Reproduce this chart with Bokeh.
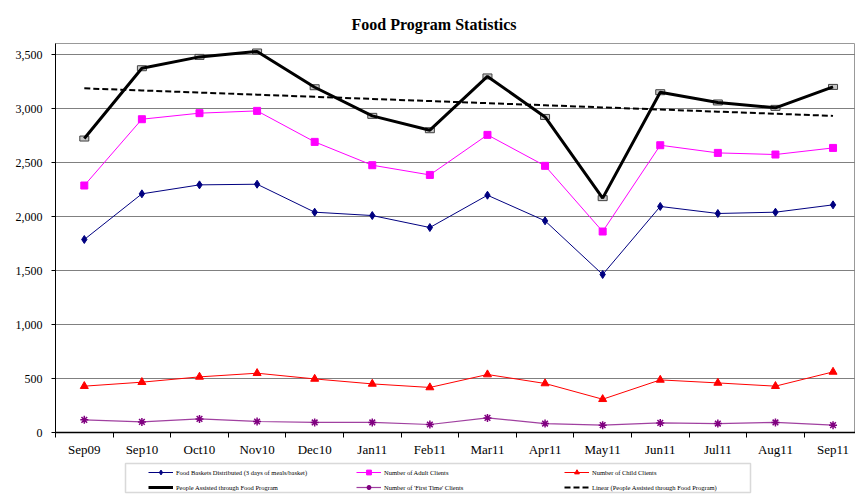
import numpy as np
from bokeh.plotting import figure
from bokeh.layouts import column
from bokeh.models import (ColumnDataSource, Range1d, FixedTicker, NumeralTickFormatter,
                          Legend, LegendItem, BoxAnnotation)
from bokeh.embed import file_html
from bokeh.resources import INLINE

months = ["Sep09", "Sep10", "Oct10", "Nov10", "Dec10", "Jan11", "Feb11",
          "Mar11", "Apr11", "May11", "Jun11", "Jul11", "Aug11", "Sep11"]
food_baskets = [1787, 2210, 2293, 2299, 2040, 2009, 1898, 2197, 1960, 1463, 2093, 2028, 2040, 2108]
adult_clients = [2287, 2901, 2957, 2978, 2691, 2475, 2385, 2756, 2469, 1861, 2660, 2589, 2574, 2635]
child_clients = [429, 466, 515, 549, 496, 450, 417, 537, 454, 308, 487, 459, 429, 561]
people_assisted = [2722, 3373, 3478, 3528, 3197, 2932, 2799, 3297, 2922, 2170, 3151, 3056, 3006, 3200]
first_time = [117, 98, 126, 102, 93, 93, 74, 135, 83, 68, 89, 83, 93, 68]
y_ticks = [0, 500, 1000, 1500, 2000, 2500, 3000, 3500]
labels = ["Food Baskets Distributed (3 days of meals/basket)",
          "Number of Adult Clients",
          "Number of Child Clients",
          "People Assisted through Food Program",
          "Number of 'First Time' Clients",
          "Linear (People Assisted through Food Program)"]

idx = np.arange(len(months))
slope, intercept = np.polyfit(idx, np.array(people_assisted, dtype=float), 1)
trend = (slope * idx + intercept).tolist()

src = ColumnDataSource(dict(x=idx.tolist(), food=food_baskets, adult=adult_clients,
                            child=child_clients, people=people_assisted,
                            first=first_time, trend=trend))

SERIF = "Liberation Serif"


def add_series(f):
    r = {}
    r["food"] = [f.line("x", "food", source=src, line_color="#000080", line_width=1),
                 f.scatter("x", "food", source=src, marker="diamond", size=8,
                           fill_color="#000080", line_color="#000080")]
    r["adult"] = [f.line("x", "adult", source=src, line_color="#FF00FF", line_width=1),
                  f.scatter("x", "adult", source=src, marker="square", size=7,
                            fill_color="#FF00FF", line_color="#FF00FF")]
    r["child"] = [f.line("x", "child", source=src, line_color="#FF0000", line_width=1),
                  f.scatter("x", "child", source=src, marker="triangle", size=8,
                            fill_color="#FF0000", line_color="#FF0000")]
    f.rect("x", "people", source=src, width=9, height=5, width_units="screen",
           height_units="screen", fill_color="#c8c8c8", line_color="#404040", line_width=1)
    lp = f.line("x", "people", source=src, line_color="black", line_width=3)
    r["people"] = [lp]
    r["first"] = [f.line("x", "first", source=src, line_color="#A040A0", line_width=1.2),
                  f.scatter("x", "first", source=src, marker="asterisk", size=8,
                            line_color="#800080", line_width=1.5)]
    r["trend"] = [f.line("x", "trend", source=src, line_color="black", line_width=2,
                         line_dash="6 3")]
    return r


# ---------------- main chart ----------------
p = figure(width=855, height=459, output_backend="svg", toolbar_location=None,
           x_range=Range1d(-0.5, 13.39), y_range=Range1d(0, 3602),
           min_border_left=55, min_border_right=0, min_border_top=43,
           min_border_bottom=27)

p.title.text = "Food Program Statistics"
p.title.align = "left"
p.title.offset = 296
p.title.standoff = 22
p.title.text_font = SERIF
p.title.text_font_size = "16px"
p.title.text_font_style = "bold"
p.title.text_color = "black"

p.outline_line_color = "#999999"
p.background_fill_color = "white"
p.border_fill_color = "white"

p.xaxis.ticker = FixedTicker(ticks=idx.tolist(), minor_ticks=[i + 0.5 for i in range(-1, 14)])
p.xaxis.major_label_overrides = {int(i): m for i, m in zip(idx, months)}
p.xaxis.major_tick_out = 0
p.xaxis.major_tick_in = 0
p.xaxis.minor_tick_out = 5
p.xaxis.minor_tick_in = 0
p.xaxis.minor_tick_line_color = "black"
p.xaxis.axis_line_color = "black"
p.xaxis.axis_line_width = 1.5
p.xaxis.major_label_text_font = SERIF
p.xaxis.major_label_text_font_size = "13px"
p.xaxis.major_label_text_color = "black"
p.xaxis.major_label_standoff = 4

p.yaxis.ticker = FixedTicker(ticks=y_ticks)
p.yaxis.formatter = NumeralTickFormatter(format="0,0")
p.yaxis.major_tick_out = 4
p.yaxis.major_tick_in = 0
p.yaxis.minor_tick_line_color = None
p.yaxis.axis_line_color = "black"
p.yaxis.major_tick_line_color = "black"
p.yaxis.major_label_text_font = SERIF
p.yaxis.major_label_text_font_size = "12px"
p.yaxis.major_label_text_color = "black"
p.yaxis.major_label_standoff = 9

p.xgrid.grid_line_color = None
p.ygrid.ticker = FixedTicker(ticks=y_ticks)
p.ygrid.grid_line_color = "#808080"
p.ygrid.grid_line_width = 1

add_series(p)

# ---------------- legend strip (frame aligned with main chart) ----------------
lf = figure(width=855, height=40, output_backend="svg", toolbar_location=None,
            x_range=Range1d(55, 855), y_range=Range1d(0, 40),
            x_axis_type=None, y_axis_type=None,
            min_border_left=55, min_border_right=0, min_border_top=0, min_border_bottom=0)
lf.outline_line_color = None
lf.xgrid.grid_line_color = None
lf.ygrid.grid_line_color = None
lf.background_fill_color = "white"
lf.border_fill_color = "white"

lr = add_series(lf)
keys = ["food", "adult", "child", "people", "first", "trend"]
items = [LegendItem(label=lab, renderers=lr[k]) for lab, k in zip(labels, keys)]

lf.add_layout(BoxAnnotation(left=125, right=750, bottom=7, top=36,
                            fill_color=None, line_color="#808080", line_width=1.5))

legend = Legend(items=items, orientation="horizontal", nrows=2,
                location=(93, 6), label_text_font=SERIF, label_text_font_size="6.5px",
                label_text_color="black", glyph_width=25, glyph_height=12,
                label_width=177, spacing=3, label_standoff=3, padding=2,
                label_height=12, margin=0,
                border_line_color=None, background_fill_alpha=0)
lf.add_layout(legend, "center")

layout = column(p, lf, spacing=0)
open("out.html", "w").write(file_html(layout, INLINE))
